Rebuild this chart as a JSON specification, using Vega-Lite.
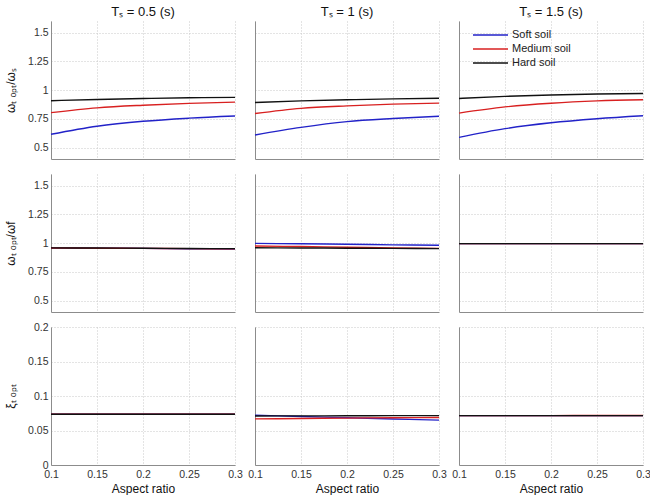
{
"$schema": "https://vega.github.io/schema/vega-lite/v6.json",
"padding": {"left": 4, "top": 6, "right": 0, "bottom": 0},
"data": {"values": [
{"c":"0.5","r":"a","s":"Soft soil","x":0.1,"y":0.615},{"c":"0.5","r":"a","s":"Soft soil","x":0.15,"y":0.685},{"c":"0.5","r":"a","s":"Soft soil","x":0.2,"y":0.728},{"c":"0.5","r":"a","s":"Soft soil","x":0.25,"y":0.755},{"c":"0.5","r":"a","s":"Soft soil","x":0.3,"y":0.774},
{"c":"0.5","r":"a","s":"Medium soil","x":0.1,"y":0.803},{"c":"0.5","r":"a","s":"Medium soil","x":0.15,"y":0.845},{"c":"0.5","r":"a","s":"Medium soil","x":0.2,"y":0.868},{"c":"0.5","r":"a","s":"Medium soil","x":0.25,"y":0.884},{"c":"0.5","r":"a","s":"Medium soil","x":0.3,"y":0.895},
{"c":"0.5","r":"a","s":"Hard soil","x":0.1,"y":0.907},{"c":"0.5","r":"a","s":"Hard soil","x":0.15,"y":0.918},{"c":"0.5","r":"a","s":"Hard soil","x":0.2,"y":0.926},{"c":"0.5","r":"a","s":"Hard soil","x":0.25,"y":0.932},{"c":"0.5","r":"a","s":"Hard soil","x":0.3,"y":0.936},
{"c":"1","r":"a","s":"Soft soil","x":0.1,"y":0.609},{"c":"1","r":"a","s":"Soft soil","x":0.15,"y":0.675},{"c":"1","r":"a","s":"Soft soil","x":0.2,"y":0.725},{"c":"1","r":"a","s":"Soft soil","x":0.25,"y":0.752},{"c":"1","r":"a","s":"Soft soil","x":0.3,"y":0.772},
{"c":"1","r":"a","s":"Medium soil","x":0.1,"y":0.795},{"c":"1","r":"a","s":"Medium soil","x":0.15,"y":0.84},{"c":"1","r":"a","s":"Medium soil","x":0.2,"y":0.862},{"c":"1","r":"a","s":"Medium soil","x":0.25,"y":0.877},{"c":"1","r":"a","s":"Medium soil","x":0.3,"y":0.886},
{"c":"1","r":"a","s":"Hard soil","x":0.1,"y":0.891},{"c":"1","r":"a","s":"Hard soil","x":0.15,"y":0.905},{"c":"1","r":"a","s":"Hard soil","x":0.2,"y":0.915},{"c":"1","r":"a","s":"Hard soil","x":0.25,"y":0.923},{"c":"1","r":"a","s":"Hard soil","x":0.3,"y":0.928},
{"c":"1.5","r":"a","s":"Soft soil","x":0.1,"y":0.588},{"c":"1.5","r":"a","s":"Soft soil","x":0.15,"y":0.664},{"c":"1.5","r":"a","s":"Soft soil","x":0.2,"y":0.715},{"c":"1.5","r":"a","s":"Soft soil","x":0.25,"y":0.75},{"c":"1.5","r":"a","s":"Soft soil","x":0.3,"y":0.776},
{"c":"1.5","r":"a","s":"Medium soil","x":0.1,"y":0.799},{"c":"1.5","r":"a","s":"Medium soil","x":0.15,"y":0.853},{"c":"1.5","r":"a","s":"Medium soil","x":0.2,"y":0.885},{"c":"1.5","r":"a","s":"Medium soil","x":0.25,"y":0.905},{"c":"1.5","r":"a","s":"Medium soil","x":0.3,"y":0.915},
{"c":"1.5","r":"a","s":"Hard soil","x":0.1,"y":0.926},{"c":"1.5","r":"a","s":"Hard soil","x":0.15,"y":0.945},{"c":"1.5","r":"a","s":"Hard soil","x":0.2,"y":0.957},{"c":"1.5","r":"a","s":"Hard soil","x":0.25,"y":0.965},{"c":"1.5","r":"a","s":"Hard soil","x":0.3,"y":0.97},
{"c":"0.5","r":"b","s":"Soft soil","x":0.1,"y":0.957},{"c":"0.5","r":"b","s":"Soft soil","x":0.15,"y":0.955},{"c":"0.5","r":"b","s":"Soft soil","x":0.2,"y":0.953},{"c":"0.5","r":"b","s":"Soft soil","x":0.25,"y":0.95},{"c":"0.5","r":"b","s":"Soft soil","x":0.3,"y":0.948},
{"c":"0.5","r":"b","s":"Medium soil","x":0.1,"y":0.957},{"c":"0.5","r":"b","s":"Medium soil","x":0.15,"y":0.955},{"c":"0.5","r":"b","s":"Medium soil","x":0.2,"y":0.953},{"c":"0.5","r":"b","s":"Medium soil","x":0.25,"y":0.951},{"c":"0.5","r":"b","s":"Medium soil","x":0.3,"y":0.95},
{"c":"0.5","r":"b","s":"Hard soil","x":0.1,"y":0.958},{"c":"0.5","r":"b","s":"Hard soil","x":0.15,"y":0.956},{"c":"0.5","r":"b","s":"Hard soil","x":0.2,"y":0.954},{"c":"0.5","r":"b","s":"Hard soil","x":0.25,"y":0.952},{"c":"0.5","r":"b","s":"Hard soil","x":0.3,"y":0.951},
{"c":"1","r":"b","s":"Soft soil","x":0.1,"y":0.997},{"c":"1","r":"b","s":"Soft soil","x":0.15,"y":0.993},{"c":"1","r":"b","s":"Soft soil","x":0.2,"y":0.989},{"c":"1","r":"b","s":"Soft soil","x":0.25,"y":0.984},{"c":"1","r":"b","s":"Soft soil","x":0.3,"y":0.98},
{"c":"1","r":"b","s":"Medium soil","x":0.1,"y":0.974},{"c":"1","r":"b","s":"Medium soil","x":0.15,"y":0.969},{"c":"1","r":"b","s":"Medium soil","x":0.2,"y":0.963},{"c":"1","r":"b","s":"Medium soil","x":0.25,"y":0.958},{"c":"1","r":"b","s":"Medium soil","x":0.3,"y":0.953},
{"c":"1","r":"b","s":"Hard soil","x":0.1,"y":0.959},{"c":"1","r":"b","s":"Hard soil","x":0.15,"y":0.957},{"c":"1","r":"b","s":"Hard soil","x":0.2,"y":0.955},{"c":"1","r":"b","s":"Hard soil","x":0.25,"y":0.953},{"c":"1","r":"b","s":"Hard soil","x":0.3,"y":0.951},
{"c":"1.5","r":"b","s":"Soft soil","x":0.1,"y":0.995},{"c":"1.5","r":"b","s":"Soft soil","x":0.15,"y":0.995},{"c":"1.5","r":"b","s":"Soft soil","x":0.2,"y":0.995},{"c":"1.5","r":"b","s":"Soft soil","x":0.25,"y":0.995},{"c":"1.5","r":"b","s":"Soft soil","x":0.3,"y":0.995},
{"c":"1.5","r":"b","s":"Medium soil","x":0.1,"y":0.995},{"c":"1.5","r":"b","s":"Medium soil","x":0.15,"y":0.995},{"c":"1.5","r":"b","s":"Medium soil","x":0.2,"y":0.995},{"c":"1.5","r":"b","s":"Medium soil","x":0.25,"y":0.995},{"c":"1.5","r":"b","s":"Medium soil","x":0.3,"y":0.995},
{"c":"1.5","r":"b","s":"Hard soil","x":0.1,"y":0.995},{"c":"1.5","r":"b","s":"Hard soil","x":0.15,"y":0.995},{"c":"1.5","r":"b","s":"Hard soil","x":0.2,"y":0.995},{"c":"1.5","r":"b","s":"Hard soil","x":0.25,"y":0.995},{"c":"1.5","r":"b","s":"Hard soil","x":0.3,"y":0.995},
{"c":"0.5","r":"c","s":"Soft soil","x":0.1,"y":0.0735},{"c":"0.5","r":"c","s":"Soft soil","x":0.15,"y":0.0735},{"c":"0.5","r":"c","s":"Soft soil","x":0.2,"y":0.0735},{"c":"0.5","r":"c","s":"Soft soil","x":0.25,"y":0.0735},{"c":"0.5","r":"c","s":"Soft soil","x":0.3,"y":0.0735},
{"c":"0.5","r":"c","s":"Medium soil","x":0.1,"y":0.0735},{"c":"0.5","r":"c","s":"Medium soil","x":0.15,"y":0.0735},{"c":"0.5","r":"c","s":"Medium soil","x":0.2,"y":0.0735},{"c":"0.5","r":"c","s":"Medium soil","x":0.25,"y":0.0735},{"c":"0.5","r":"c","s":"Medium soil","x":0.3,"y":0.0735},
{"c":"0.5","r":"c","s":"Hard soil","x":0.1,"y":0.0735},{"c":"0.5","r":"c","s":"Hard soil","x":0.15,"y":0.0735},{"c":"0.5","r":"c","s":"Hard soil","x":0.2,"y":0.0735},{"c":"0.5","r":"c","s":"Hard soil","x":0.25,"y":0.0735},{"c":"0.5","r":"c","s":"Hard soil","x":0.3,"y":0.0735},
{"c":"1","r":"c","s":"Soft soil","x":0.1,"y":0.0721},{"c":"1","r":"c","s":"Soft soil","x":0.15,"y":0.0703},{"c":"1","r":"c","s":"Soft soil","x":0.2,"y":0.0685},{"c":"1","r":"c","s":"Soft soil","x":0.25,"y":0.0667},{"c":"1","r":"c","s":"Soft soil","x":0.3,"y":0.065},
{"c":"1","r":"c","s":"Medium soil","x":0.1,"y":0.0668},{"c":"1","r":"c","s":"Medium soil","x":0.15,"y":0.0674},{"c":"1","r":"c","s":"Medium soil","x":0.2,"y":0.068},{"c":"1","r":"c","s":"Medium soil","x":0.25,"y":0.0685},{"c":"1","r":"c","s":"Medium soil","x":0.3,"y":0.0689},
{"c":"1","r":"c","s":"Hard soil","x":0.1,"y":0.0711},{"c":"1","r":"c","s":"Hard soil","x":0.15,"y":0.0712},{"c":"1","r":"c","s":"Hard soil","x":0.2,"y":0.0713},{"c":"1","r":"c","s":"Hard soil","x":0.25,"y":0.0715},{"c":"1","r":"c","s":"Hard soil","x":0.3,"y":0.0716},
{"c":"1.5","r":"c","s":"Soft soil","x":0.1,"y":0.0715},{"c":"1.5","r":"c","s":"Soft soil","x":0.15,"y":0.0715},{"c":"1.5","r":"c","s":"Soft soil","x":0.2,"y":0.0715},{"c":"1.5","r":"c","s":"Soft soil","x":0.25,"y":0.0716},{"c":"1.5","r":"c","s":"Soft soil","x":0.3,"y":0.0716},
{"c":"1.5","r":"c","s":"Medium soil","x":0.1,"y":0.0716},{"c":"1.5","r":"c","s":"Medium soil","x":0.15,"y":0.0716},{"c":"1.5","r":"c","s":"Medium soil","x":0.2,"y":0.0716},{"c":"1.5","r":"c","s":"Medium soil","x":0.25,"y":0.0717},{"c":"1.5","r":"c","s":"Medium soil","x":0.3,"y":0.0717},
{"c":"1.5","r":"c","s":"Hard soil","x":0.1,"y":0.0716},{"c":"1.5","r":"c","s":"Hard soil","x":0.15,"y":0.0716},{"c":"1.5","r":"c","s":"Hard soil","x":0.2,"y":0.0716},{"c":"1.5","r":"c","s":"Hard soil","x":0.25,"y":0.0716},{"c":"1.5","r":"c","s":"Hard soil","x":0.3,"y":0.0716}
]},
"columns": 3,
"spacing": {"row": 15, "column": 20},
"bounds": "flush",
"resolve": {"scale": {"color": "independent"}},
"concat": [
{"width":184,"height":138,"title":"Tₛ = 0.5 (s)","transform":[{"filter":"datum.c=='0.5' && datum.r=='a'"}],
 "mark":{"type":"line","strokeWidth":1.4,"interpolate":"monotone"},
 "encoding":{"x":{"field":"x","type":"quantitative","scale":{"domain":[0.1,0.3]},"axis":{"values":[0.1,0.15,0.2,0.25,0.3],"labels":false,"title":null}},
  "y":{"field":"y","type":"quantitative","scale":{"domain":[0.4,1.6]},"axis":{"values":[0.5,0.75,1,1.25,1.5],"format":".3~g","title":"ωₜ ₒₚₜ/ωₛ"}},
  "color":{"field":"s","type":"nominal","sort":["Soft soil","Medium soil","Hard soil"],"scale":{"domain":["Soft soil","Medium soil","Hard soil"],"range":["#2222c8","#d82020","#111111"]},"legend":null}}},
{"width":184,"height":138,"title":"Tₛ = 1 (s)","transform":[{"filter":"datum.c=='1' && datum.r=='a'"}],
 "mark":{"type":"line","strokeWidth":1.4,"interpolate":"monotone"},
 "encoding":{"x":{"field":"x","type":"quantitative","scale":{"domain":[0.1,0.3]},"axis":{"values":[0.1,0.15,0.2,0.25,0.3],"labels":false,"title":null}},
  "y":{"field":"y","type":"quantitative","scale":{"domain":[0.4,1.6]},"axis":{"values":[0.5,0.75,1,1.25,1.5],"labels":false,"title":null}},
  "color":{"field":"s","type":"nominal","sort":["Soft soil","Medium soil","Hard soil"],"scale":{"domain":["Soft soil","Medium soil","Hard soil"],"range":["#2222c8","#d82020","#111111"]},"legend":null}}},
{"width":184,"height":138,"title":"Tₛ = 1.5 (s)","transform":[{"filter":"datum.c=='1.5' && datum.r=='a'"}],
 "mark":{"type":"line","strokeWidth":1.4,"interpolate":"monotone"},
 "encoding":{"x":{"field":"x","type":"quantitative","scale":{"domain":[0.1,0.3]},"axis":{"values":[0.1,0.15,0.2,0.25,0.3],"labels":false,"title":null}},
  "y":{"field":"y","type":"quantitative","scale":{"domain":[0.4,1.6]},"axis":{"values":[0.5,0.75,1,1.25,1.5],"labels":false,"title":null}},
  "color":{"field":"s","type":"nominal","sort":["Soft soil","Medium soil","Hard soil"],"scale":{"domain":["Soft soil","Medium soil","Hard soil"],"range":["#2222c8","#d82020","#111111"]},
   "legend":{"title":null,"orient":"none","legendX":23.5,"legendY":6,"padding":0,"symbolType":"M-2.5,0H2.5","symbolSize":196,"symbolStrokeWidth":1.4,"labelFontSize":11,"labelColor":"#222","rowPadding":1,"labelOffset":13.5}}}},
{"width":184,"height":138,"transform":[{"filter":"datum.c=='0.5' && datum.r=='b'"}],
 "mark":{"type":"line","strokeWidth":1.4,"interpolate":"monotone"},
 "encoding":{"x":{"field":"x","type":"quantitative","scale":{"domain":[0.1,0.3]},"axis":{"values":[0.1,0.15,0.2,0.25,0.3],"labels":false,"title":null}},
  "y":{"field":"y","type":"quantitative","scale":{"domain":[0.4,1.6]},"axis":{"values":[0.5,0.75,1,1.25,1.5],"format":".3~g","title":"ωₜ ₒₚₜ/ωf"}},
  "color":{"field":"s","type":"nominal","sort":["Soft soil","Medium soil","Hard soil"],"scale":{"domain":["Soft soil","Medium soil","Hard soil"],"range":["#2222c8","#d82020","#111111"]},"legend":null}}},
{"width":184,"height":138,"transform":[{"filter":"datum.c=='1' && datum.r=='b'"}],
 "mark":{"type":"line","strokeWidth":1.4,"interpolate":"monotone"},
 "encoding":{"x":{"field":"x","type":"quantitative","scale":{"domain":[0.1,0.3]},"axis":{"values":[0.1,0.15,0.2,0.25,0.3],"labels":false,"title":null}},
  "y":{"field":"y","type":"quantitative","scale":{"domain":[0.4,1.6]},"axis":{"values":[0.5,0.75,1,1.25,1.5],"labels":false,"title":null}},
  "color":{"field":"s","type":"nominal","sort":["Soft soil","Medium soil","Hard soil"],"scale":{"domain":["Soft soil","Medium soil","Hard soil"],"range":["#2222c8","#d82020","#111111"]},"legend":null}}},
{"width":184,"height":138,"transform":[{"filter":"datum.c=='1.5' && datum.r=='b'"}],
 "mark":{"type":"line","strokeWidth":1.4,"interpolate":"monotone"},
 "encoding":{"x":{"field":"x","type":"quantitative","scale":{"domain":[0.1,0.3]},"axis":{"values":[0.1,0.15,0.2,0.25,0.3],"labels":false,"title":null}},
  "y":{"field":"y","type":"quantitative","scale":{"domain":[0.4,1.6]},"axis":{"values":[0.5,0.75,1,1.25,1.5],"labels":false,"title":null}},
  "color":{"field":"s","type":"nominal","sort":["Soft soil","Medium soil","Hard soil"],"scale":{"domain":["Soft soil","Medium soil","Hard soil"],"range":["#2222c8","#d82020","#111111"]},"legend":null}}},
{"width":184,"height":138,"transform":[{"filter":"datum.c=='0.5' && datum.r=='c'"}],
 "mark":{"type":"line","strokeWidth":1.4,"interpolate":"monotone"},
 "encoding":{"x":{"field":"x","type":"quantitative","scale":{"domain":[0.1,0.3]},"axis":{"values":[0.1,0.15,0.2,0.25,0.3],"format":".3~g","title":"Aspect ratio"}},
  "y":{"field":"y","type":"quantitative","scale":{"domain":[0,0.2]},"axis":{"values":[0,0.05,0.1,0.15,0.2],"format":".3~g","title":"ξₜ ₒₚₜ"}},
  "color":{"field":"s","type":"nominal","sort":["Soft soil","Medium soil","Hard soil"],"scale":{"domain":["Soft soil","Medium soil","Hard soil"],"range":["#2222c8","#d82020","#111111"]},"legend":null}}},
{"width":184,"height":138,"transform":[{"filter":"datum.c=='1' && datum.r=='c'"}],
 "mark":{"type":"line","strokeWidth":1.4,"interpolate":"monotone"},
 "encoding":{"x":{"field":"x","type":"quantitative","scale":{"domain":[0.1,0.3]},"axis":{"values":[0.1,0.15,0.2,0.25,0.3],"format":".3~g","title":"Aspect ratio"}},
  "y":{"field":"y","type":"quantitative","scale":{"domain":[0,0.2]},"axis":{"values":[0,0.05,0.1,0.15,0.2],"labels":false,"title":null}},
  "color":{"field":"s","type":"nominal","sort":["Soft soil","Medium soil","Hard soil"],"scale":{"domain":["Soft soil","Medium soil","Hard soil"],"range":["#2222c8","#d82020","#111111"]},"legend":null}}},
{"width":184,"height":138,"transform":[{"filter":"datum.c=='1.5' && datum.r=='c'"}],
 "mark":{"type":"line","strokeWidth":1.4,"interpolate":"monotone"},
 "encoding":{"x":{"field":"x","type":"quantitative","scale":{"domain":[0.1,0.3]},"axis":{"values":[0.1,0.15,0.2,0.25,0.3],"format":".3~g","title":"Aspect ratio"}},
  "y":{"field":"y","type":"quantitative","scale":{"domain":[0,0.2]},"axis":{"values":[0,0.05,0.1,0.15,0.2],"labels":false,"title":null}},
  "color":{"field":"s","type":"nominal","sort":["Soft soil","Medium soil","Hard soil"],"scale":{"domain":["Soft soil","Medium soil","Hard soil"],"range":["#2222c8","#d82020","#111111"]},"legend":null}}}
],
"config": {
 "font": "Liberation Sans",
 "view": {"stroke": null},
 "axis": {"domainColor": "#8c8c8c", "gridColor": "#c8c8c8", "gridDash": [1, 2], "ticks": false, "labelFontSize": 10.5, "labelColor": "#333333", "labelPadding": 3, "labelFlush": false, "titleFontSize": 12, "titleFontWeight": "normal", "titleColor": "#111111"},
 "axisY": {"titlePadding": 10},
 "axisX": {"titlePadding": 4, "labelPadding": 4},
 "title": {"fontSize": 13, "fontWeight": "normal", "color": "#111111", "offset": 2}
}
}
